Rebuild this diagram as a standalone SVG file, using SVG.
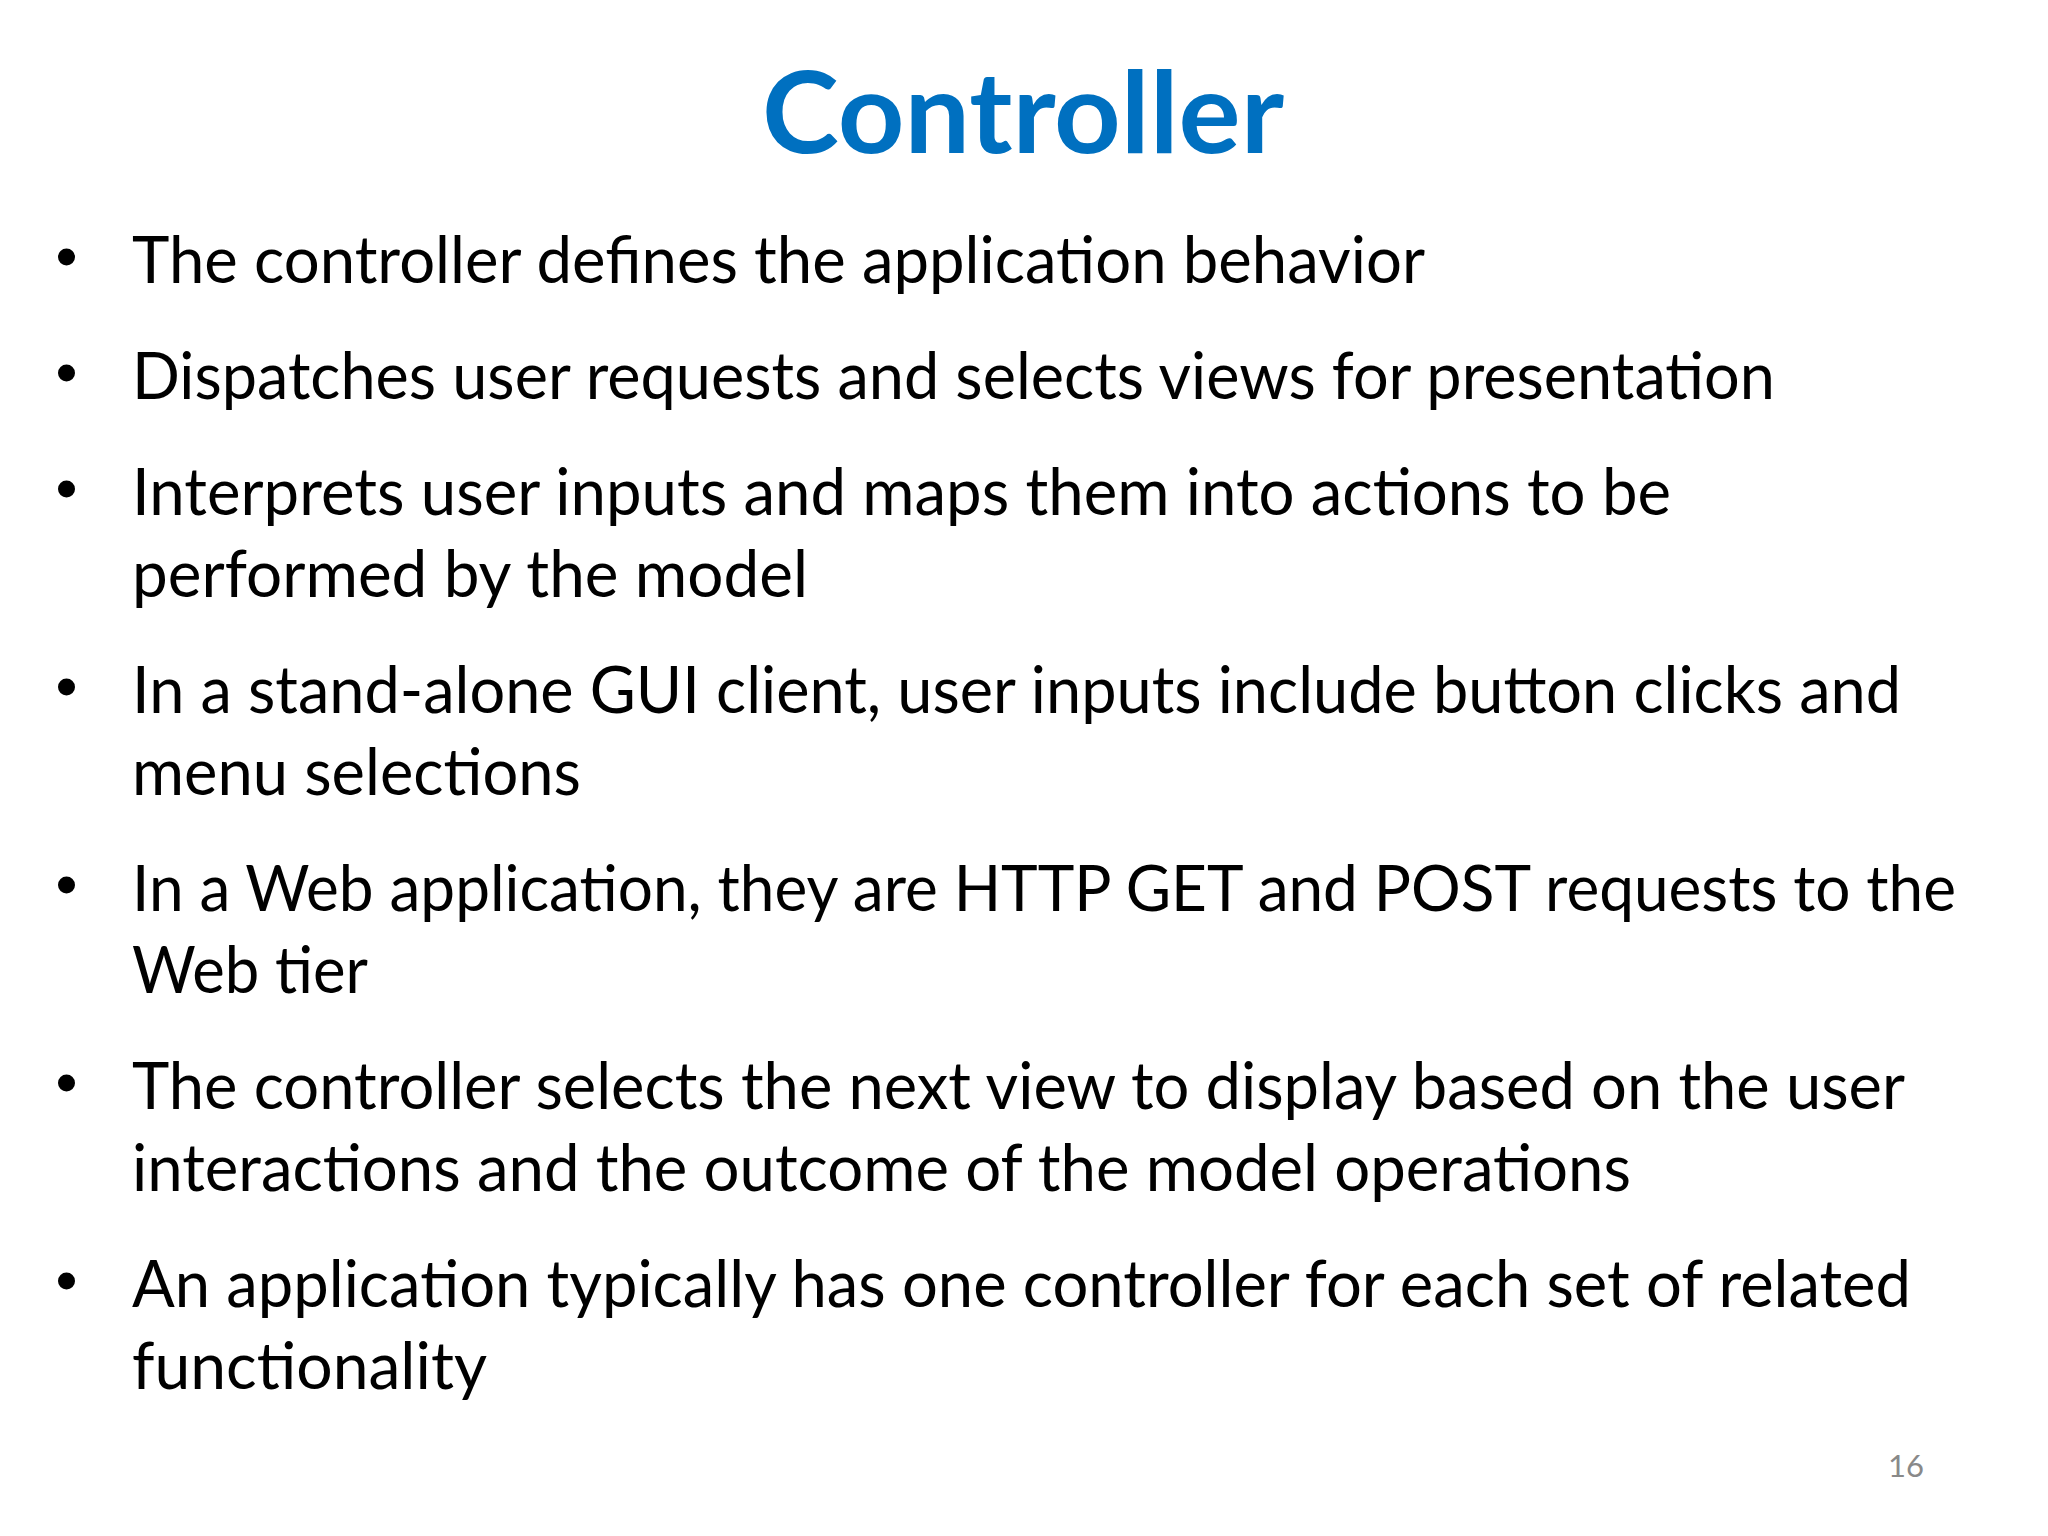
<svg xmlns="http://www.w3.org/2000/svg" width="2048" height="1536" viewBox="0 0 2048 1536">
<style>
.title{font-family:Lato,"Liberation Sans",sans-serif;font-weight:bold;font-size:113px;fill:#0070C0}
.body{font-family:Lato,"Liberation Sans",sans-serif;font-size:66px;fill:#000000}
.tight{font-size:63px}
.num{font-family:Lato,"Liberation Sans",sans-serif;font-size:31px;fill:#898989}
.dot{fill:#000000}
</style>
<rect width="2048" height="1536" fill="#FFFFFF"/>
<g id="title"><text class="title" x="762" y="153" textLength="522" lengthAdjust="spacingAndGlyphs">Controller</text></g>
<g id="bullet1">
<circle class="dot" cx="66.5" cy="257" r="8.5"/>
<text class="body" x="132" y="283" textLength="1293" lengthAdjust="spacingAndGlyphs">The controller defines the application behavior</text>
</g>
<g id="bullet2">
<circle class="dot" cx="66.5" cy="373" r="8.5"/>
<text class="body" x="132" y="399" textLength="1643" lengthAdjust="spacingAndGlyphs">Dispatches user requests and selects views for presentation</text>
</g>
<g id="bullet3">
<circle class="dot" cx="66.5" cy="489" r="8.5"/>
<text class="body" x="132" y="515" textLength="1539" lengthAdjust="spacingAndGlyphs">Interprets user inputs and maps them into actions to be</text>
<text class="body" x="132" y="597" textLength="676" lengthAdjust="spacingAndGlyphs">performed by the model</text>
</g>
<g id="bullet4">
<circle class="dot" cx="66.5" cy="687" r="8.5"/>
<text class="body" x="132" y="713" textLength="1769" lengthAdjust="spacingAndGlyphs">In a stand-alone GUI client, user inputs include button clicks and</text>
<text class="body" x="132" y="795" textLength="449" lengthAdjust="spacingAndGlyphs">menu selections</text>
</g>
<g id="bullet5">
<circle class="dot" cx="66.5" cy="885" r="8.5"/>
<text class="body tight" x="132" y="911" textLength="1824" lengthAdjust="spacingAndGlyphs">In a Web application, they are HTTP GET and POST requests to the</text>
<text class="body" x="132" y="993" textLength="236" lengthAdjust="spacingAndGlyphs">Web tier</text>
</g>
<g id="bullet6">
<circle class="dot" cx="66.5" cy="1083" r="8.5"/>
<text class="body" x="132" y="1109" textLength="1773" lengthAdjust="spacingAndGlyphs">The controller selects the next view to display based on the user</text>
<text class="body" x="132" y="1191" textLength="1499" lengthAdjust="spacingAndGlyphs">interactions and the outcome of the model operations</text>
</g>
<g id="bullet7">
<circle class="dot" cx="66.5" cy="1281" r="8.5"/>
<text class="body" x="132" y="1307" textLength="1779" lengthAdjust="spacingAndGlyphs">An application typically has one controller for each set of related</text>
<text class="body" x="132" y="1389" textLength="355" lengthAdjust="spacingAndGlyphs">functionality</text>
</g>
<g id="page-number"><text class="num" x="1924" y="1477" text-anchor="end">16</text></g>
</svg>
